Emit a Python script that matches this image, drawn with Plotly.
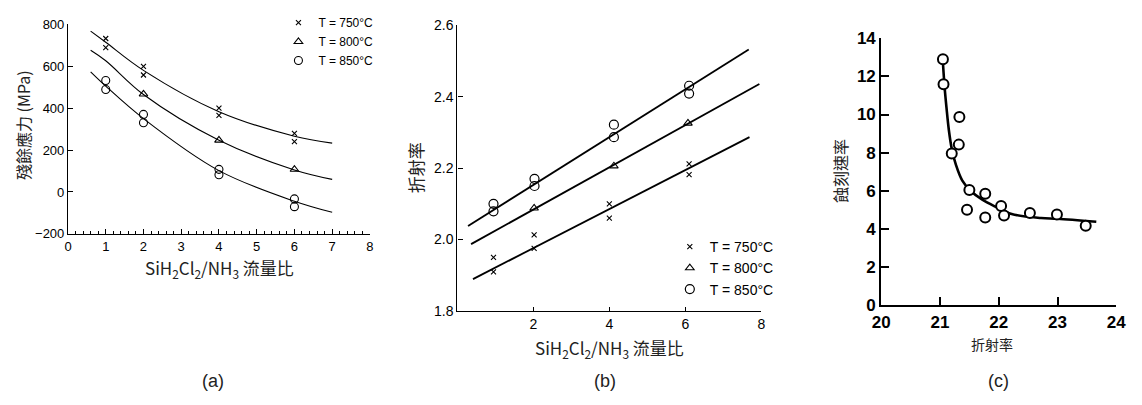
import plotly.graph_objects as go

W, H = 1142, 405

# ---------------- Panel (a): residual stress vs flow ratio ----------------
a_x_750 = [1, 1, 2, 2, 4, 4, 6, 6]
a_y_750 = [732, 688, 599, 558, 400, 365, 280, 240]
a_x_800 = [2, 4, 6]
a_y_800 = [467, 247, 108]
a_x_850 = [1, 1, 2, 2, 4, 4, 6, 6]
a_y_850 = [532, 489, 370, 330, 108, 82, -33, -70]

a_fit_x = [0.6, 1, 2, 4, 6, 7]
a_fit_750 = [767, 714, 580, 383, 266, 233]
a_fit_800 = [676, 626, 465, 247, 105, 60]
a_fit_850 = [573, 505, 350, 102, -44, -97]

a_xticks = [0, 1, 2, 3, 4, 5, 6, 7, 8]
a_yticks = [-200, 0, 200, 400, 600, 800]

# ---------------- Panel (b): refractive index vs flow ratio ----------------
b_x_750 = [0.95, 0.95, 2.02, 2.02, 4.0, 4.0, 6.1, 6.1]
b_y_750 = [1.950, 1.909, 2.013, 1.975, 2.100, 2.060, 2.212, 2.182]
b_x_800 = [2.02, 4.12, 6.07]
b_y_800 = [2.088, 2.206, 2.326]
b_x_850 = [0.95, 0.95, 2.03, 2.03, 4.12, 4.12, 6.1, 6.1]
b_y_850 = [2.100, 2.079, 2.170, 2.150, 2.322, 2.287, 2.431, 2.409]

b_fit_x_750 = [0.41, 7.69]
b_fit_y_750 = [1.889, 2.287]
b_fit_x_800 = [0.36, 7.95]
b_fit_y_800 = [1.987, 2.436]
b_fit_x_850 = [0.28, 7.67]
b_fit_y_850 = [2.038, 2.533]

b_xticks = [2, 4, 6, 8]
b_yticks = [1.8, 2.0, 2.2, 2.4, 2.6]
b_yticklabels = ["1.8", "2.0", "2.2", "2.4", "2.6"]

# ---------------- Panel (c): etch rate vs refractive index ----------------
c_x = [21.05, 21.06, 21.33, 21.32, 21.2, 21.5, 21.46, 21.77, 21.77, 22.04, 22.09, 22.53, 22.99, 23.48]
c_y = [12.9, 11.59, 9.87, 8.42, 7.95, 6.04, 5.0, 5.84, 4.6, 5.2, 4.7, 4.83, 4.75, 4.17]
c_fit_x = [21.05, 21.08, 21.11, 21.15, 21.2, 21.27, 21.38, 21.52, 21.72, 21.94, 22.22, 22.72, 23.0, 23.66]
c_fit_y = [12.7, 11.37, 10.37, 9.2, 8.2, 7.37, 6.53, 6.0, 5.53, 5.17, 4.78, 4.57, 4.53, 4.37]
c_xticks = [20, 21, 22, 23, 24]
c_yticks = [0, 2, 4, 6, 8, 10, 12, 14]

labels = ["T = 750°C", "T = 800°C", "T = 850°C"]

LAT = "Liberation Sans, Arial, sans-serif"
CJK = "Noto Sans CJK TC, Noto Sans CJK SC, sans-serif"

fig = go.Figure()

line_a = dict(color="black", width=1.1)
for fy in (a_fit_750, a_fit_800, a_fit_850):
    fig.add_trace(go.Scatter(x=a_fit_x, y=fy, mode="lines", line=dict(shape="spline", smoothing=1.0, **line_a),
                             showlegend=False, hoverinfo="skip", xaxis="x", yaxis="y"))
mk_x = dict(symbol="x-thin", size=5, color="black", line=dict(color="black", width=1.1))
mk_t = dict(symbol="triangle-up-open", size=7.5, color="black", line=dict(color="black", width=1.1))
mk_o = dict(symbol="circle-open", size=8, color="black", line=dict(color="black", width=1.1))
mk_ob = dict(symbol="circle-open", size=9, color="black", line=dict(color="black", width=1.2))

fig.add_trace(go.Scatter(x=a_x_750, y=a_y_750, mode="markers", marker=mk_x, name=labels[0], legend="legend", xaxis="x", yaxis="y"))
fig.add_trace(go.Scatter(x=a_x_800, y=a_y_800, mode="markers", marker=mk_t, name=labels[1], legend="legend", xaxis="x", yaxis="y"))
fig.add_trace(go.Scatter(x=a_x_850, y=a_y_850, mode="markers", marker=mk_o, name=labels[2], legend="legend", xaxis="x", yaxis="y"))

line_b = dict(color="black", width=1.8)
for fx, fy in ((b_fit_x_750, b_fit_y_750), (b_fit_x_800, b_fit_y_800), (b_fit_x_850, b_fit_y_850)):
    fig.add_trace(go.Scatter(x=fx, y=fy, mode="lines", line=line_b, showlegend=False, hoverinfo="skip",
                             xaxis="x2", yaxis="y2"))
fig.add_trace(go.Scatter(x=b_x_750, y=b_y_750, mode="markers", marker=mk_x, name=labels[0], legend="legend2", xaxis="x2", yaxis="y2"))
fig.add_trace(go.Scatter(x=b_x_800, y=b_y_800, mode="markers", marker=mk_t, name=labels[1], legend="legend2", xaxis="x2", yaxis="y2"))
fig.add_trace(go.Scatter(x=b_x_850, y=b_y_850, mode="markers", marker=mk_ob, name=labels[2], legend="legend2", xaxis="x2", yaxis="y2"))

fig.add_trace(go.Scatter(x=c_fit_x, y=c_fit_y, mode="lines", line=dict(color="black", width=2.6, shape="spline", smoothing=1.0),
                         showlegend=False, hoverinfo="skip", xaxis="x3", yaxis="y3"))
fig.add_trace(go.Scatter(x=c_x, y=c_y, mode="markers",
                         marker=dict(symbol="circle", size=10, color="white", line=dict(color="black", width=2)),
                         showlegend=False, xaxis="x3", yaxis="y3"))

common = dict(showgrid=False, zeroline=False, showline=True, linecolor="black", ticks="inside",
              tickcolor="black", fixedrange=True)

fig.update_layout(
    width=W, height=H, autosize=False,
    margin=dict(l=0, r=0, t=0, b=0),
    paper_bgcolor="white", plot_bgcolor="white",
    font=dict(family=LAT, color="black", size=11),
    xaxis=dict(domain=[60 / W, 367 / W], range=[0, 8], anchor="y", tickmode="array", tickvals=a_xticks,
               ticklen=5, linewidth=1.1, tickwidth=1, tickfont=dict(size=13, family=LAT),
               minor=dict(dtick=0.2, tick0=0, ticks="inside", ticklen=3, tickcolor="black", showgrid=False),
               **common),
    yaxis=dict(domain=[1 - 236 / H, 1 - 16 / H], range=[-200, 800], anchor="x", tickmode="array", tickvals=a_yticks,
               ticklen=5, linewidth=1.1, tickwidth=1, tickfont=dict(size=13, family=LAT), **common),
    xaxis2=dict(domain=[456 / W, 765 / W], range=[0, 8], anchor="y2", tickmode="array", tickvals=b_xticks,
                ticklen=4, linewidth=1.3, tickwidth=1, tickfont=dict(size=14, family=LAT), **common),
    yaxis2=dict(domain=[1 - 316.7 / H, 1 - 17.3 / H], range=[1.8, 2.6], anchor="x2", tickmode="array",
                tickvals=b_yticks, ticktext=b_yticklabels,
                ticklen=5, linewidth=1.3, tickwidth=1, tickfont=dict(size=14, family=LAT), **common),
    xaxis3=dict(domain=[887 / W, 1126 / W], range=[20, 24], anchor="y3", tickmode="array", tickvals=c_xticks,
                ticklen=8, linewidth=2, tickwidth=2, tickfont=dict(size=17, family=LAT, weight="bold"), **common),
    yaxis3=dict(domain=[1 - 310.7 / H, 1 - 30.7 / H], range=[0, 14], anchor="x3", tickmode="array", tickvals=c_yticks,
                ticklen=8, linewidth=2, tickwidth=2, tickfont=dict(size=17, family=LAT, weight="bold"), **common),
    legend=dict(x=274 / W, y=1 + 1 / H, xanchor="left", yanchor="top", bgcolor="rgba(0,0,0,0)",
                font=dict(size=12, family=LAT), tracegroupgap=0, itemwidth=30),
    legend2=dict(x=672 / W, y=1 - 233 / H, xanchor="left", yanchor="top", bgcolor="rgba(0,0,0,0)",
                 font=dict(size=14, family=LAT), tracegroupgap=0, itemwidth=30),
)

ann = []
def A(x, y, text, size, angle=0, family=CJK, color="#222"):
    ann.append(dict(x=x / W, y=1 - y / H, xref="paper", yref="paper", text=text, showarrow=False,
                    textangle=angle, font=dict(size=size, family=family, color=color),
                    xanchor="center", yanchor="middle"))

formula = "SiH<sub>2</sub>Cl<sub>2</sub>/NH<sub>3</sub> 流量比"
A(15, 122, "殘餘應力 (MPa)", 16, angle=-90)
A(214, 272, formula, 17)
A(207, 390, "(a)", 18, family=LAT)
A(413, 167, "折射率", 17, angle=-90)
A(611, 356, formula, 17)
A(606, 390, "(b)", 18, family=LAT)
A(845, 170, "蝕刻速率", 16, angle=-90)
A(1000, 352, "折射率", 14)
A(1006, 390, "(c)", 18, family=LAT)
fig.update_layout(annotations=ann)

fig.write_html("out.html")
